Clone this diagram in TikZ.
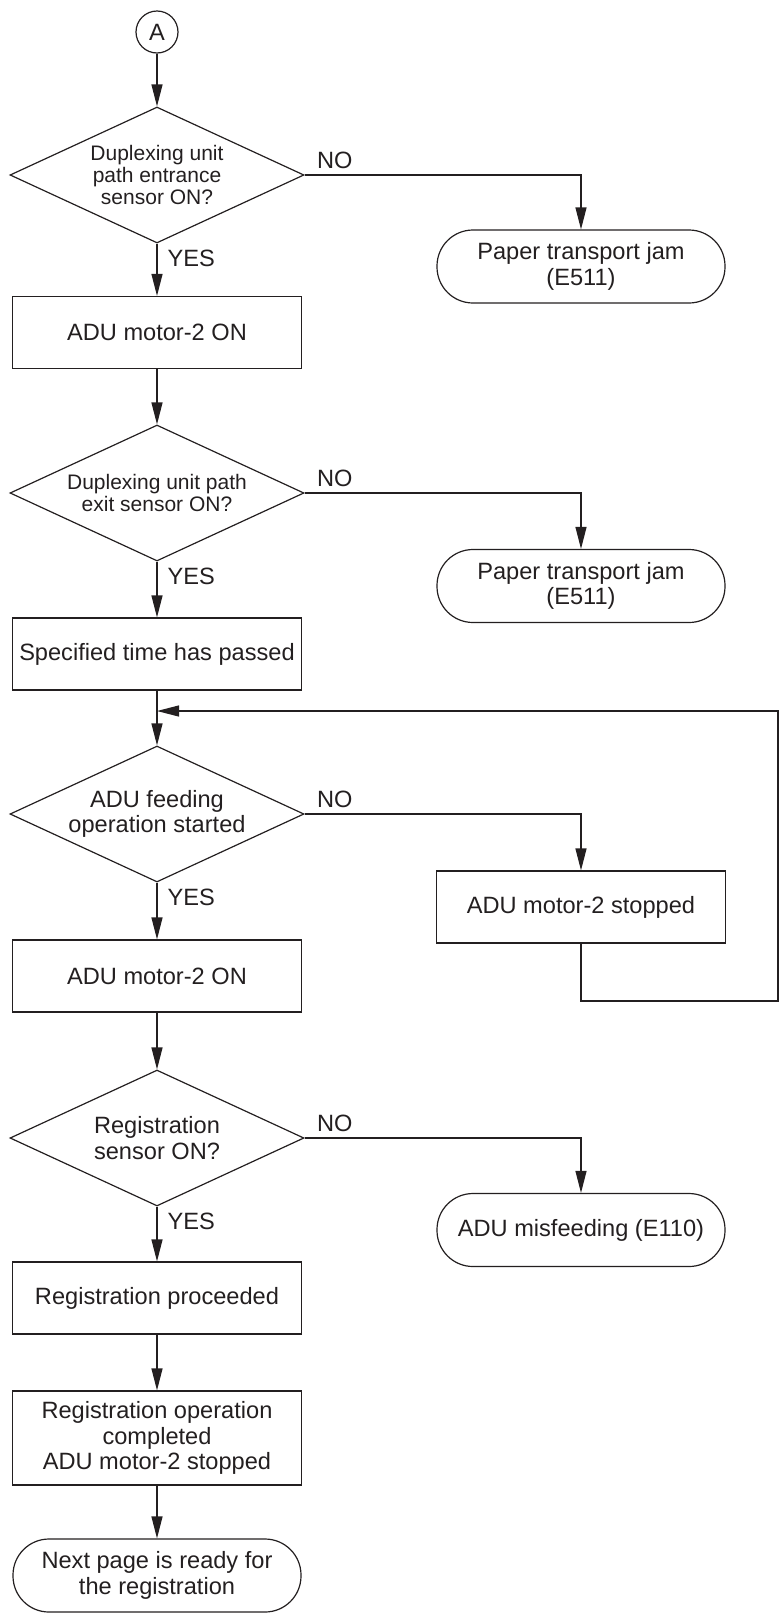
\documentclass[tikz,border=0pt]{standalone}
\usepackage{fontspec}
\setmainfont{Liberation Sans}
\usetikzlibrary{shapes.geometric,arrows.meta}
\definecolor{ink}{RGB}{35,31,32}
\begin{document}
\begin{tikzpicture}[x=0.5pt,y=-0.5pt,
  line width=0.6pt, color=ink,
  bigfont/.style={font=\fontsize{11.8pt}{12.75pt}\selectfont},
  box/.style={draw, rectangle, minimum width=144.5pt, minimum height=36pt, inner sep=0pt, align=center, bigfont},
  term/.style={draw, rectangle, rounded corners=18pt, minimum width=144pt, minimum height=36.5pt, inner sep=0pt, align=center, bigfont},
  dec/.style={draw, diamond, aspect=2.16, minimum width=147pt, minimum height=68pt, inner sep=0pt, align=center, bigfont},
  decs/.style={dec, font=\fontsize{10.5pt}{11pt}\selectfont},
  con/.style={draw, circle, minimum size=21pt, inner sep=0pt, bigfont},
  arr/.style={-{Triangle[length=11pt,width=5.5pt]}},
  lbl/.style={anchor=west, inner sep=0pt, bigfont}
]
\useasboundingbox (0,0) rectangle (779,1617);

\node[con] (A) at (157,32) {A};
\node[decs] (d1) at (157,175) {Duplexing unit\\path entrance\\ sensor ON?};
\node[term] (t1) at (581,266.5) {Paper transport jam\\(E511)};
\node[box] (r1) at (157,332.5) {ADU motor-2 ON};
\node[decs] (d2) at (157,493) {Duplexing unit path\\exit sensor ON?};
\node[term] (t2) at (581,586) {Paper transport jam\\(E511)};
\node[box] (r2) at (157,654) {Specified time has passed};
\coordinate (m) at (157,711);
\node[dec] (d3) at (157,814) {ADU feeding\\operation started};
\node[box] (b3) at (581,907) {ADU motor-2 stopped};
\coordinate (rb) at (778,1001);
\node[box] (r3) at (157,976) {ADU motor-2 ON};
\node[dec] (d4) at (157,1138) {Registration\\sensor ON?};
\node[term] (t4) at (581,1230) {ADU misfeeding (E110)};
\node[box] (r4) at (157,1298) {Registration proceeded};
\node[box, minimum height=47pt] (r5) at (157,1438) {Registration operation\\completed\\ADU motor-2 stopped};
\node[term] (t5) at (157,1575.5) {Next page is ready for\\the registration};

\draw[arr] (A) -- (d1);
\draw[arr] (d1.east) -| (t1.north);
\draw[arr] (d1) -- (r1);
\draw[arr] (r1) -- (d2);
\draw[arr] (d2.east) -| (t2.north);
\draw[arr] (d2) -- (r2);
\draw[arr] (r2) -- (d3);
\draw[arr] (d3.east) -| (b3.north);
\draw[arr] (b3.south) |- (rb) |- (m);
\draw[arr] (d3) -- (r3);
\draw[arr] (r3) -- (d4);
\draw[arr] (d4.east) -| (t4.north);
\draw[arr] (d4) -- (r4);
\draw[arr] (r4) -- (r5);
\draw[arr] (r5) -- (t5);

\foreach \d in {d1,d2,d3,d4}{
  \node[lbl] at ([xshift=5pt,yshift=-7.5pt]\d.south) {YES};
  \node[lbl] at ([xshift=6pt,yshift=7.5pt]\d.east) {NO};
}
\end{tikzpicture}
\end{document}
